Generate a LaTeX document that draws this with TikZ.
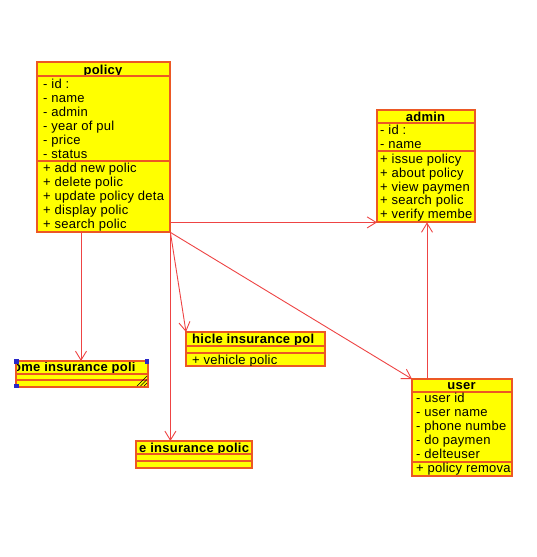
\documentclass[tikz,border=0pt]{standalone}
\usepackage{fontspec}
\setmainfont{Liberation Sans}[LetterSpace=2]
\usetikzlibrary{arrows.meta}
\definecolor{classy}{RGB}{255,255,0}
\definecolor{boxc}{RGB}{236,88,36}
\definecolor{linec}{RGB}{238,68,68}
\definecolor{handle}{RGB}{40,40,200}
\tikzset{
  x=1pt, y=-1pt,
  cls/.style={draw=boxc, fill=classy, line width=1.4pt, inner sep=0pt, anchor=north west},
  sepline/.style={draw=boxc, line width=1.4pt},
  ttl/.style={inner sep=0pt, anchor=base, font=\fontsize{13}{15}\selectfont\bfseries},
  row/.style={inner sep=0pt, anchor=base west, font=\fontsize{13}{15}\selectfont},
  arr/.style={draw=linec, line width=0.9pt, -{Straight Barb[length=9pt,width=11pt]}},
}
\begin{document}
\begin{tikzpicture}
\useasboundingbox[fill=white] (0,0) rectangle (537,557);

% ---------- policy ----------
\node[cls, minimum width=132pt, minimum height=169pt] (policy) at (37,62) {};
\begin{scope}
\clip (policy.north west) rectangle (policy.south east);
\node[ttl] (policyT) at (103,74) {policy};
\draw[sepline] (37,76) -- (169,76);
\draw[sepline] (37,161) -- (169,161);
\node[row] (p1) at (43,88) {- id :};
\node[row] (p2) at (43,102) {- name};
\node[row] (p3) at (43,116) {- admin};
\node[row] (p4) at (43,130) {- year of pul};
\node[row] (p5) at (43,144) {- price};
\node[row] (p6) at (43,158) {- status};
\node[row] (p7) at (43,172) {+ add new polic};
\node[row] (p8) at (43,186) {+ delete polic};
\node[row] (p9) at (43,200) {+ update policy deta};
\node[row] (p10) at (43,214) {+ display polic};
\node[row] (p11) at (43,228) {+ search polic};
\end{scope}
\draw[boxc, line width=1.4pt] (policy.north west) rectangle (policy.south east);

% ---------- admin ----------
\node[cls, minimum width=97pt, minimum height=111pt] (admin) at (377,110) {};
\begin{scope}
\clip (admin.north west) rectangle (admin.south east);
\node[ttl] (adminT) at (425.5,121) {admin};
\draw[sepline] (377,123) -- (474,123);
\draw[sepline] (377,151) -- (474,151);
\node[row] (a1) at (380,134) {- id :};
\node[row] (a2) at (380,148) {- name};
\node[row] (a3) at (380,163) {+ issue policy};
\node[row] (a4) at (380,177) {+ about policy};
\node[row] (a5) at (380,191) {+ view paymen};
\node[row] (a6) at (380,204.5) {+ search polic};
\node[row] (a7) at (380,218) {+ verify membe};
\end{scope}
\draw[boxc, line width=1.4pt] (admin.north west) rectangle (admin.south east);

% ---------- home insurance ----------
\node[cls, minimum width=131pt, minimum height=25pt] (home) at (16,361) {};
\begin{scope}
\clip (home.north west) rectangle (home.south east);
\node[ttl, anchor=base west] (homeT) at (13,371) {ome insurance poli};
\draw[sepline] (16,374) -- (147,374);
\draw[sepline] (16,380) -- (147,380);
\end{scope}
\draw[boxc, line width=1.4pt] (home.north west) rectangle (home.south east);
\fill[handle] (14,359) rectangle (18.5,363.5);
\fill[handle] (144.5,359) rectangle (149,363.5);
\fill[handle] (14,383.5) rectangle (18.5,388);
\draw[black, line width=0.6pt] (137,386) -- (147,376) (140.5,386) -- (147,379.5) (144,386) -- (147,383);

% ---------- vehicle insurance ----------
\node[cls, minimum width=138pt, minimum height=33pt] (vehicle) at (186,332) {};
\begin{scope}
\clip (vehicle.north west) rectangle (vehicle.south east);
\node[ttl, anchor=base west] (vehicleT) at (192,343.5) {hicle insurance pol};
\draw[sepline] (186,346) -- (324,346);
\draw[sepline] (186,353) -- (324,353);
\node[row] (v1) at (192,364) {+ vehicle polic};
\end{scope}
\draw[boxc, line width=1.4pt] (vehicle.north west) rectangle (vehicle.south east);

% ---------- life insurance ----------
\node[cls, minimum width=115pt, minimum height=26pt] (life) at (136,441) {};
\begin{scope}
\clip (life.north west) rectangle (life.south east);
\node[ttl, anchor=base west] (lifeT) at (139,452) {e insurance polic};
\draw[sepline] (136,454) -- (251,454);
\draw[sepline] (136,461) -- (251,461);
\end{scope}
\draw[boxc, line width=1.4pt] (life.north west) rectangle (life.south east);

% ---------- user ----------
\node[cls, minimum width=99pt, minimum height=96pt] (user) at (412,379) {};
\begin{scope}
\clip (user.north west) rectangle (user.south east);
\node[ttl] (userT) at (461.5,389.5) {user};
\draw[sepline] (412,392) -- (511,392);
\draw[sepline] (412,462) -- (511,462);
\node[row] (u1) at (416,402) {- user id};
\node[row] (u2) at (416,416) {- user name};
\node[row] (u3) at (416,430) {- phone numbe};
\node[row] (u4) at (416,444) {- do paymen};
\node[row] (u5) at (416,458) {- delteuser};
\node[row] (u6) at (416,472) {+ policy remova};
\end{scope}
\draw[boxc, line width=1.4pt] (user.north west) rectangle (user.south east);

% ---------- connectors ----------
\coordinate (homeIn) at (81,361);
\coordinate (userOut) at (427,379);
\draw[arr] (policy.south -| homeIn) -- (homeIn);
\draw[arr] (policy.south east) -- (policy.south east |- life.north);
\draw[arr] (policy.south east) -- (vehicle.north west);
\draw[arr] (policy.south east) -- (user.north west);
\draw[arr] (admin.south west -| policy.east) -- (admin.south west);
\draw[arr] (userOut) -- (userOut |- admin.south);
\end{tikzpicture}
\end{document}
